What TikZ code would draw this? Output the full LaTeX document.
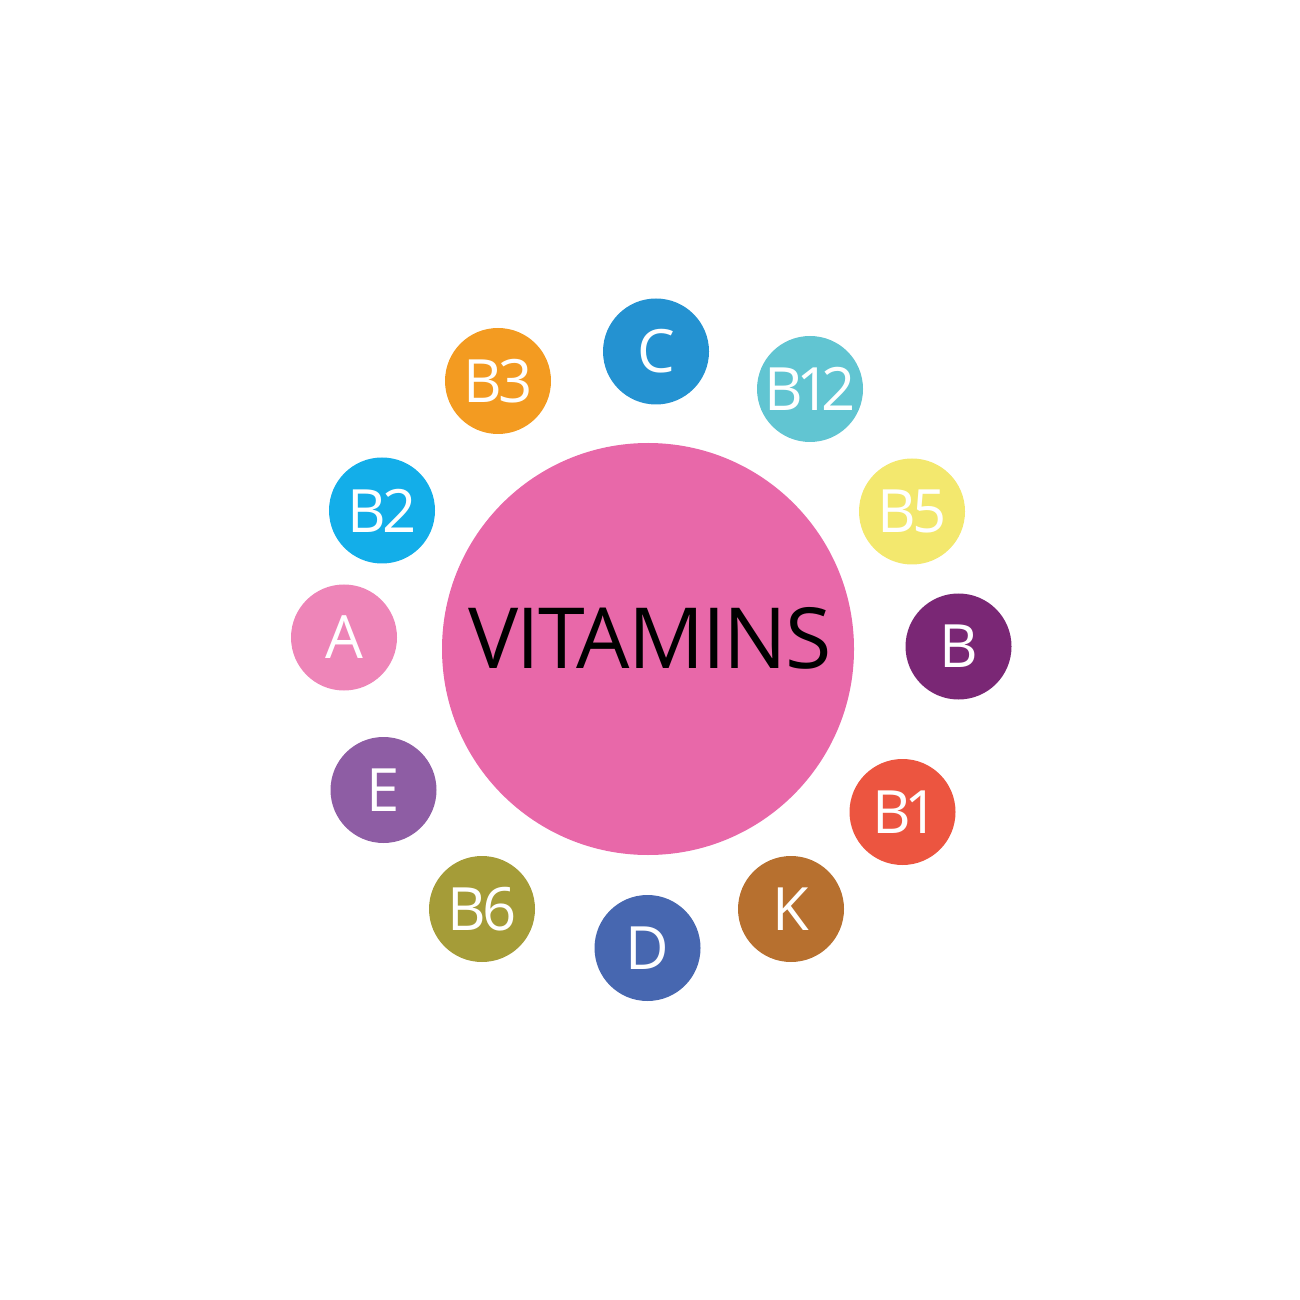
\documentclass[tikz,border=0pt]{standalone}
\usepackage{fontspec}
\setmainfont{Open Sans}
\definecolor{vtpink}{HTML}{E868A9}
\definecolor{vtblue}{HTML}{2492D1}
\definecolor{vtteal}{HTML}{61C5D2}
\definecolor{vtyellow}{HTML}{F3E86E}
\definecolor{vtplum}{HTML}{7A2775}
\definecolor{vtred}{HTML}{EC5540}
\definecolor{vtbrown}{HTML}{B7702F}
\definecolor{vtnavy}{HTML}{4767B0}
\definecolor{vtolive}{HTML}{A59C38}
\definecolor{vtviolet}{HTML}{8E5DA4}
\definecolor{vtrose}{HTML}{EE85B8}
\definecolor{vtcyan}{HTML}{13AEE9}
\definecolor{vtorange}{HTML}{F39B21}
\usepackage{tikz}
\tikzset{
  vtcore/.style ={circle, fill=vtpink, minimum size=4.12cm, inner sep=0pt},
  vttitle/.style={font=\fontsize{24}{24}\selectfont\addfontfeatures{LetterSpace=-2.5},
                  text=black, inner sep=0pt},
  vtdot/.style  ={circle, minimum size=1.06cm, inner sep=0pt, text=white,
                  font=\fontsize{17}{17}\selectfont\addfontfeatures{Numbers=Proportional,LetterSpace=-5}},
}

\begin{document}
\begin{tikzpicture}
  \useasboundingbox (0,0) rectangle (13,-13);
  \node[vtcore] (core) at (6.48,-6.49) {};
  \node[vttitle] (title) at (6.5,-6.38) {VITAMINS};
  % ring of vitamins, clockwise from the top
  \foreach \x/\y/\c/\t/\n in {6.56/-3.515/vtblue/C/c, 8.10/-3.89/vtteal/B12/btwelve,
      9.12/-5.115/vtyellow/B5/bfive, 9.585/-6.465/vtplum/B/b, 9.025/-8.12/vtred/B1/bone,
      7.91/-9.09/vtbrown/K/k, 6.475/-9.48/vtnavy/D/d, 4.82/-9.09/vtolive/B6/bsix,
      3.835/-7.90/vtviolet/E/e, 3.44/-6.375/vtrose/A/a, 3.82/-5.105/vtcyan/B2/btwo,
      4.98/-3.81/vtorange/B3/bthree}{
    \node[vtdot, fill=\c] (v\n) at (\x,\y) {\makebox[0pt]{\t}};}
\end{tikzpicture}
\end{document}
